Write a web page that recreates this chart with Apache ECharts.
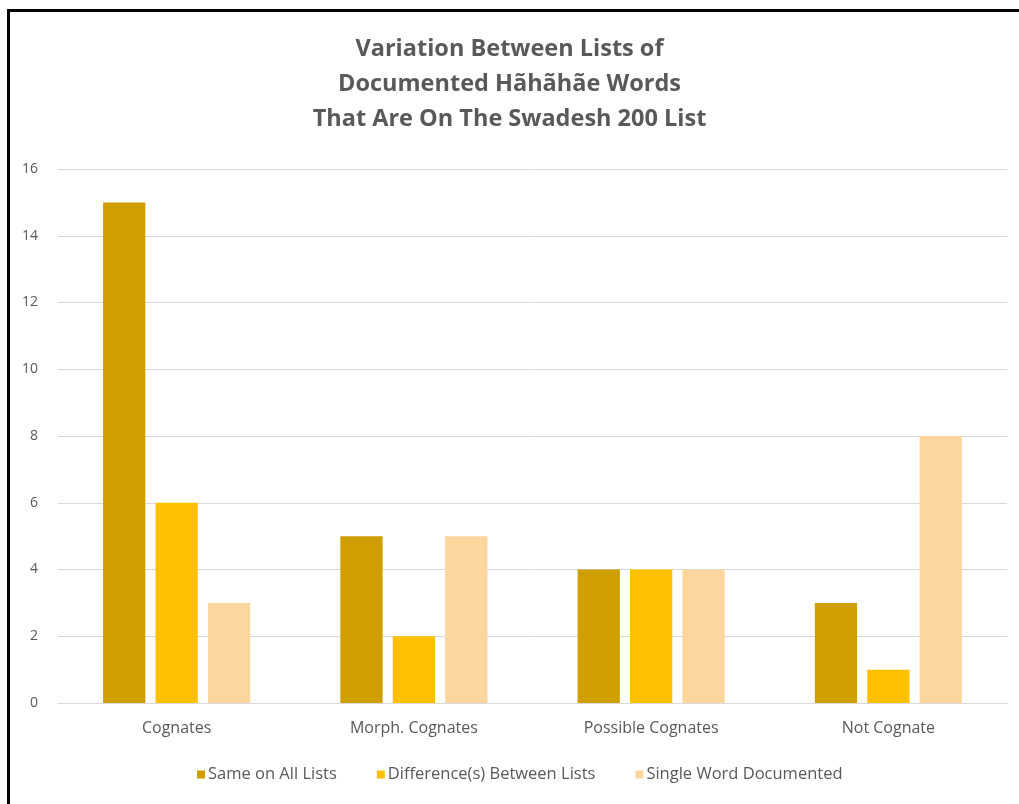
<!DOCTYPE html>
<html>
<head>
<meta charset="utf-8">
<script src="https://cdn.jsdelivr.net/npm/echarts@6/dist/echarts.min.js"></script>
<style>
  html, body { margin: 0; padding: 0; background: #fff; }
  #chart { width: 1019px; height: 804px; }
  #frame {
    position: absolute; left: 7px; top: 9px; width: 1012px; height: 795px;
    border-top: 3px solid #000; border-left: 3px solid #000;
    box-sizing: border-box; pointer-events: none;
  }
</style>
</head>
<body>
<div id="chart"></div>
<div id="frame"></div>
<script>
const categories = ['Cognates', 'Morph. Cognates', 'Possible Cognates', 'Not Cognate'];
const seriesNames = ['Same on All Lists', 'Difference(s) Between Lists', 'Single Word Documented'];
const sameOnAll = [15, 5, 4, 3];
const differences = [6, 2, 4, 1];
const singleWord = [3, 5, 4, 8];
const yTicks = [0, 2, 4, 6, 8, 10, 12, 14, 16];

const colors = ['#D09E00', '#FFC000', '#FDD69E'];
const font = "'Open Sans', 'Liberation Sans', sans-serif";

const chart = echarts.init(document.getElementById('chart'));
chart.setOption({
  animation: false,
  textStyle: { fontFamily: font },
  title: {
    text: 'Variation Between Lists of\nDocumented Hãhãhãe Words\nThat Are On The Swadesh 200 List',
    left: 'center',
    top: 27,
    textStyle: { fontSize: 23.5, fontWeight: 'bold', color: '#595959', lineHeight: 35, fontFamily: font }
  },
  grid: { left: 58, right: 12, top: 169, bottom: 101 },
  xAxis: {
    type: 'category',
    data: categories,
    axisLine: { lineStyle: { color: '#D9D9D9', width: 1 } },
    axisTick: { show: false },
    axisLabel: { color: '#595959', fontSize: 16, margin: 17 }
  },
  yAxis: {
    type: 'value',
    min: yTicks[0],
    max: yTicks[yTicks.length - 1],
    interval: 2,
    axisLine: { show: false },
    axisTick: { show: false },
    splitLine: { lineStyle: { color: '#D9D9D9', width: 1 } },
    axisLabel: { color: '#595959', fontSize: 14, margin: 20 }
  },
  legend: {
    bottom: 16,
    left: 192,
    itemWidth: 8,
    itemHeight: 8,
    itemGap: 40,
    icon: 'rect',
    textStyle: { color: '#595959', fontSize: 16.5, fontFamily: font, padding: [0, 0, 0, -2] },
    data: seriesNames
  },
  series: [
    { name: seriesNames[0], type: 'bar', data: sameOnAll, itemStyle: { color: colors[0] }, barGap: '24%', barCategoryGap: '38%' },
    { name: seriesNames[1], type: 'bar', data: differences, itemStyle: { color: colors[1] } },
    { name: seriesNames[2], type: 'bar', data: singleWord, itemStyle: { color: colors[2] } }
  ]
});
</script>
</body>
</html>
